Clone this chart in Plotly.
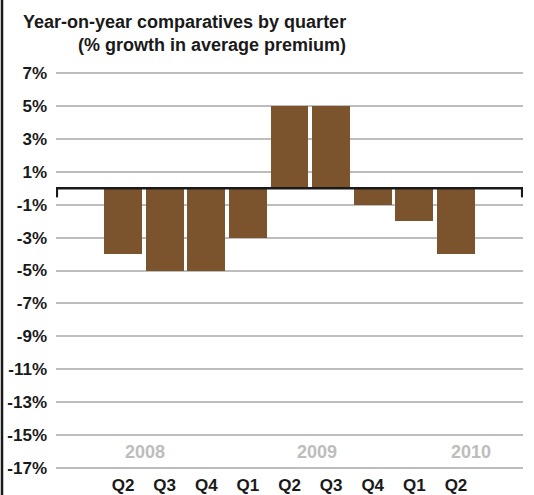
import plotly.graph_objects as go

# Quarterly year-on-year growth in average premium (%)
quarters = ["Q2", "Q3", "Q4", "Q1", "Q2", "Q3", "Q4", "Q1", "Q2"]
growth = [-4, -5, -5, -3, 5, 5, -1, -2, -4]
years = ["2008", "2009", "2010"]
year_pos = [0.53, 4.65, 8.35]
y_ticks = list(range(-17, 8, 2))
y_labels = [f"{v}%" for v in y_ticks]

W, H = 534, 495
ML, MR, MT, MB = 56, 11, 70, 24
x_range = [-1.61, len(quarters) - 1 + 1.61]
y_range = [-17.2, 7.2]

FONT = "Liberation Sans, Arial, Helvetica, sans-serif"
x_pos = list(range(len(quarters)))

fig = go.Figure(go.Bar(
    x=x_pos, y=growth, width=0.91,
    marker=dict(color="#7B532C", line=dict(width=0)),
    hoverinfo="skip",
))

ph = H - MT - MB
pw = W - ML - MR

# Title, two lines
fig.add_annotation(text="<b>Year-on-year comparatives by quarter</b>",
                   xref="paper", yref="paper", x=(21 - ML) / pw,
                   y=1 + (MT - 22) / ph, xanchor="left", yanchor="middle",
                   showarrow=False, font=dict(family=FONT, size=18, color="#1a1a1a"))
fig.add_annotation(text="<b>(% growth in average premium)</b>",
                   xref="paper", yref="paper", x=(76 - ML) / pw,
                   y=1 + (MT - 45) / ph, xanchor="left", yanchor="middle",
                   showarrow=False, font=dict(family=FONT, size=18, color="#1a1a1a"))

# Year labels inside the plot
for yr, xp in zip(years, year_pos):
    fig.add_annotation(text=f"<b>{yr}</b>", x=xp, y=-16.05, xref="x", yref="y",
                       showarrow=False, xanchor="center", yanchor="middle",
                       font=dict(family=FONT, size=18, color="#BDBDBD"))

# Zero baseline with end ticks
fig.add_shape(type="line", x0=x_range[0], x1=x_range[1], y0=0, y1=0,
              xref="x", yref="y", line=dict(color="#1a1a1a", width=2.5))
for xe in (x_range[0] + 0.02, x_range[1] - 0.02):
    fig.add_shape(type="line", x0=xe, x1=xe, y0=0, y1=-0.55,
                  xref="x", yref="y", line=dict(color="#1a1a1a", width=2.5))

# Left frame rule
fig.add_shape(type="line", xref="paper", yref="paper",
              x0=(2 - ML) / pw, x1=(2 - ML) / pw,
              y0=-MB / ph, y1=1 + MT / ph,
              line=dict(color="#1a1a1a", width=2.5))

fig.update_layout(
    width=W, height=H,
    margin=dict(l=ML, r=MR, t=MT, b=MB, autoexpand=False),
    plot_bgcolor="white", paper_bgcolor="white",
    showlegend=False, bargap=0,
    font=dict(family=FONT),
    xaxis=dict(range=x_range, tickmode="array", tickvals=x_pos,
               ticktext=[f"<b>{q}</b>" for q in quarters],
               showgrid=False, zeroline=False, showline=False, ticks="",
               automargin=False,
               tickfont=dict(family=FONT, size=17, color="#1a1a1a"),
               ticklabelstandoff=2),
    yaxis=dict(range=y_range, tickmode="array", tickvals=y_ticks,
               ticktext=[f"<b>{t}</b>" for t in y_labels],
               showgrid=True, gridcolor="#BDBDBD", gridwidth=2,
               zeroline=False, showline=False, ticks="",
               automargin=False,
               tickfont=dict(family=FONT, size=17, color="#1a1a1a"),
               ticklabelstandoff=8),
)

fig.write_html("out.html")
